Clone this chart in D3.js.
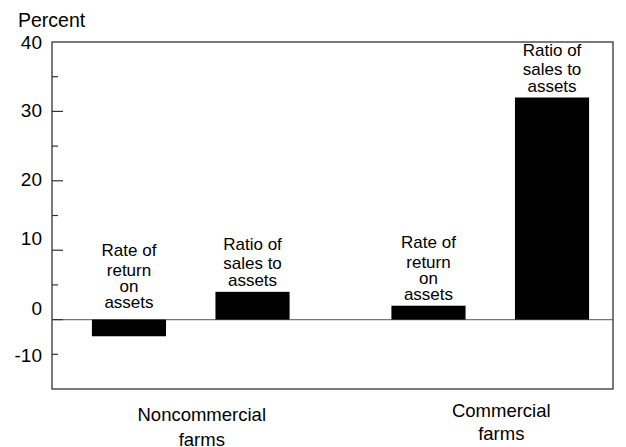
<!DOCTYPE html>
<html>
<head>
<meta charset="utf-8">
<script src="https://cdn.jsdelivr.net/npm/d3@7"></script>
<style>
  html, body { margin: 0; padding: 0; background: #fff; }
  svg { display: block; font-family: "Liberation Sans", Arial, sans-serif; }
</style>
</head>
<body>
<svg id="chart" width="626" height="447"></svg>
<script>
// ---- data ----
const groups = ["Noncommercial farms", "Commercial farms"];
const groupLines = [["Noncommercial", "farms"], ["Commercial", "farms"]];
const measures = ["Rate of return on assets", "Ratio of sales to assets"];
const measureLines = [["Rate of", "return", "on", "assets"], ["Ratio of", "sales to", "assets"]];
const noncommercialValues = [-2.4, 4.0];
const commercialValues = [2.0, 32.0];
const tickLabels = ["40", "30", "20", "10", "0", "-10"];
const tickLabelAt = [40, 30.2, 20.3, 11.7, 1.6, -5.1];
const majorTicks = [0, 10, 20, 30];
const minorTicks = [-5, 5, 15, 25, 35];
const yDomain = [-10, 40];

const seriesByGroup = [noncommercialValues, commercialValues];

(function () {
// ---- layout ----
const svg = d3.select("#chart");
const pLeft = 52, pRight = 613, pTop = 42, pBottom = 389;

const y = d3.scaleLinear().domain(yDomain).range([pBottom, pTop]);
const x0 = d3.scaleBand().domain(groups).range([41, 640]).paddingInner(0.34).paddingOuter(0.17);
const x1 = d3.scaleBand().domain(measures).range([0, x0.bandwidth()]).paddingInner(0.4).paddingOuter(0);

// zero line
svg.append("line")
  .attr("x1", pLeft).attr("x2", pRight)
  .attr("y1", y(0)).attr("y2", y(0))
  .attr("stroke", "#777").attr("stroke-width", 1.3);

// bars
const data = [];
groups.forEach((g, gi) => {
  measures.forEach((m, mi) => {
    data.push({ g, m, gi, mi, v: seriesByGroup[gi][mi] });
  });
});

svg.append("g").selectAll("rect").data(data).join("rect")
  .attr("x", d => x0(d.g) + x1(d.m))
  .attr("width", x1.bandwidth())
  .attr("y", d => y(Math.max(0, d.v)))
  .attr("height", d => Math.abs(y(d.v) - y(0)))
  .attr("fill", "#000");

// bar labels
const lineGaps = [[20, 16, 16], [19, 16.5]];
data.forEach(d => {
  const lines = measureLines[d.mi];
  const gaps = lineGaps[d.mi];
  const cx = x0(d.g) + x1(d.m) + x1.bandwidth() / 2;
  const baseY = y(Math.max(0, d.v)) - (d.v < 0 ? 12 : 6);
  const ys = new Array(lines.length);
  ys[lines.length - 1] = baseY;
  for (let i = lines.length - 2; i >= 0; i--) ys[i] = ys[i + 1] - gaps[i];
  const t = svg.append("text")
    .attr("text-anchor", "middle")
    .attr("font-size", 17)
    .attr("fill", "#000");
  lines.forEach((ln, i) => {
    t.append("tspan").attr("x", cx).attr("y", ys[i]).text(ln);
  });
});

// frame
svg.append("rect")
  .attr("x", pLeft).attr("y", pTop)
  .attr("width", pRight - pLeft).attr("height", pBottom - pTop)
  .attr("fill", "none").attr("stroke", "#333").attr("stroke-width", 1.3);

// ticks
svg.append("g").selectAll("line").data(majorTicks).join("line")
  .attr("x1", pLeft).attr("x2", pLeft + 11)
  .attr("y1", d => y(d)).attr("y2", d => y(d))
  .attr("stroke", "#333").attr("stroke-width", 1.2);
svg.append("g").selectAll("line").data(minorTicks).join("line")
  .attr("x1", pLeft).attr("x2", pLeft + 6)
  .attr("y1", d => y(d)).attr("y2", d => y(d))
  .attr("stroke", "#333").attr("stroke-width", 1.2);

// tick labels
svg.append("g").selectAll("text").data(tickLabels).join("text")
  .attr("x", 42)
  .attr("y", (d, i) => y(tickLabelAt[i]))
  .attr("dy", "0.36em")
  .attr("text-anchor", "end")
  .attr("font-size", 19)
  .attr("fill", "#000")
  .text(d => d);

// unit label
svg.append("text")
  .attr("x", 18).attr("y", 27)
  .attr("font-size", 19.5)
  .attr("fill", "#000")
  .text("Percent");

// group labels
const groupBase = [421, 417];
const groupGap = [25, 23];
groups.forEach((g, gi) => {
  const cx = x0(g) + x0.bandwidth() / 2 + 11;
  const t = svg.append("text")
    .attr("text-anchor", "middle")
    .attr("font-size", 18.5)
    .attr("fill", "#000");
  groupLines[gi].forEach((ln, i) => {
    t.append("tspan").attr("x", cx).attr("y", groupBase[gi] + i * groupGap[gi]).text(ln);
  });
});
})();
</script>
</body>
</html>
